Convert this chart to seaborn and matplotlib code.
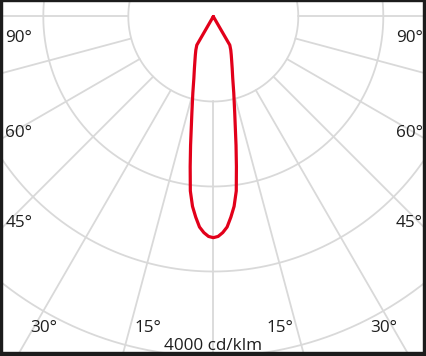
import numpy as np
import pandas as pd
import seaborn as sns
import matplotlib
matplotlib.use("Agg")
import matplotlib.pyplot as plt
from matplotlib.patches import Rectangle

# ---------------- data ----------------
# gamma angles (deg from nadir) and luminous intensity (cd/klm), symmetric plane C0/C180
gamma = [0, 1.25, 2.5, 3.75, 5, 6.25, 7.5, 8.75, 10, 12.5, 15, 17.5, 20, 22.5, 25, 27.5, 30, 35, 90]
intensity = [2602, 2588, 2545, 2482, 2370, 2247, 2070, 1788, 1540, 1165, 930, 760, 650, 565, 500, 445, 388, 0, 0]

ring_values = [1000, 2000, 3000, 4000]
spoke_angles = [-90, -75, -60, -45, -30, -15, 0, 15, 30, 45, 60, 75, 90]
angle_labels_side = ["90°", "60°", "45°"]
angle_labels_bottom = ["30°", "15°", "15°", "30°"]
scale_label = "4000 cd/klm"

# ---------------- style ----------------
sns.set_style("white")
plt.rcParams["font.family"] = ["Open Sans", "DejaVu Sans"]

W, H, DPI = 427, 356, 100
fig = plt.figure(figsize=(W / DPI, H / DPI), dpi=DPI)
ax = fig.add_axes([0, 0, 1, 1])

# polar centre in pixel coordinates and pixel scale
cx, cy = 213.3, 16.5
k = 85 / 1000.0  # px per cd/klm
ax.set_xlim(-cx / k, (W - cx) / k)
ax.set_ylim(-(H - cy) / k, cy / k)
ax.axis("off")


def px2data(px, py):
    return (px - cx) / k, (cy - py) / k


grid_color = "#d9d9d9"
grid_lw = 1.3

# rings
t = np.linspace(0, 2 * np.pi, 721)
for rv in ring_values:
    ax.plot(rv * np.sin(t), -rv * np.cos(t), color=grid_color, lw=grid_lw, zorder=1)

# spokes (from first ring outwards)
for a in spoke_angles:
    ar = np.deg2rad(a)
    rr = np.array([ring_values[0], 6000])
    ax.plot(rr * np.sin(ar), -rr * np.cos(ar), color=grid_color, lw=grid_lw, zorder=1)

# intensity curve: C180 side (left) then C0 side (right)
g = np.array(gamma, dtype=float)
I = np.array(intensity, dtype=float)
theta = np.concatenate([-g[::-1], g[1:]])
rad = np.concatenate([I[::-1], I[1:]])
df = pd.DataFrame({"x": rad * np.sin(np.deg2rad(theta)),
                   "y": -rad * np.cos(np.deg2rad(theta))})
sns.lineplot(data=df, x="x", y="y", sort=False, color="#e2001a", lw=2.3,
             ax=ax, zorder=3, estimator=None)
ax.set_xlabel("")
ax.set_ylabel("")

# labels
txt_kw = dict(fontsize=12.3, color="#1e1e1e", va="baseline", ha="center", zorder=4)
side_rows = [42, 137, 227]
for lab, py in zip(angle_labels_side, side_rows):
    ax.text(*px2data(19, py), lab, **txt_kw)
    ax.text(*px2data(409.5, py), lab, **txt_kw)
bottom_x = [43.5, 147.5, 280, 384]
for lab, px in zip(angle_labels_bottom, bottom_x):
    ax.text(*px2data(px, 332), lab, **txt_kw)
ax.text(*px2data(213.5, 350), scale_label, **txt_kw)

# dark frame
frame = "#1c1c1c"
fig.add_artist(Rectangle((0, 0), 2 / W, 1, transform=fig.transFigure, color=frame, zorder=10))
fig.add_artist(Rectangle((0, 1 - 1 / H), 1, 1 / H, transform=fig.transFigure, color=frame, zorder=10))
fig.add_artist(Rectangle((1 - 4 / W, 0), 4 / W, 1, transform=fig.transFigure, color=frame, zorder=10))
fig.add_artist(Rectangle((0, 0), 1, 4 / H, transform=fig.transFigure, color=frame, zorder=10))

fig.savefig("out.png", dpi=DPI, facecolor="white")
